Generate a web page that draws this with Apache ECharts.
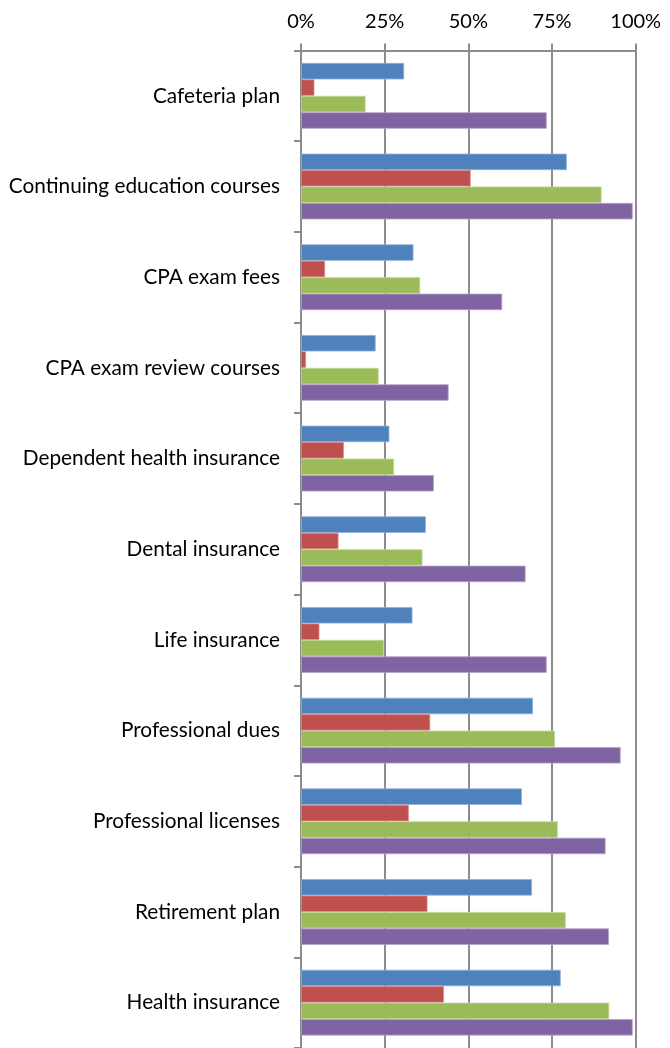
<!DOCTYPE html>
<html>
<head>
<meta charset="utf-8">
<script src="https://cdn.jsdelivr.net/npm/echarts@6/dist/echarts.min.js"></script>
<style>
html,body{margin:0;padding:0;background:#fff;}
#chart{width:670px;height:1048px;}
</style>
</head>
<body>
<div id="chart"></div>
<script>
const categories = ["Cafeteria plan","Continuing education courses","CPA exam fees","CPA exam review courses","Dependent health insurance","Dental insurance","Life insurance","Professional dues","Professional licenses","Retirement plan","Health insurance"];
const seriesBlue   = [30.8, 79.4, 33.6, 22.3, 26.4, 37.3, 33.3, 69.3, 66.0, 69.0, 77.6];
const seriesRed    = [4.0, 50.7, 7.2, 1.5, 12.8, 11.2, 5.5, 38.6, 32.2, 37.8, 42.7];
const seriesGreen  = [19.3, 89.8, 35.6, 23.2, 27.8, 36.3, 24.8, 75.9, 76.7, 79.1, 92.1];
const seriesPurple = [73.4, 99.1, 60.1, 44.1, 39.7, 67.1, 73.4, 95.5, 91.0, 92.0, 99.1];
const tickValues = [0, 25, 50, 75, 100];

const colors = ['#4F81BD','#C0504D','#9BBB59','#8064A2'];
const borders = ['#8FB0DA','#DA8C8A','#C3D89B','#B3A2C9'];
const font = 'Lato, sans-serif';
const lineColor = '#8C8C8C';

function mk(data, i){
  return {type:'bar', data:data, barGap:'0%', barCategoryGap:'27.5%',
    itemStyle:{color:colors[i], borderColor:borders[i], borderWidth:0.8}, silent:true, animation:false};
}

const chart = echarts.init(document.getElementById('chart'), null, {renderer:'canvas'});
chart.setOption({
  animation:false,
  grid:{left:301, top:50.5, width:334.7, height:999},
  xAxis:{type:'value', position:'top', min:tickValues[0], max:tickValues[tickValues.length-1], interval:25,
    axisLine:{show:true, lineStyle:{color:lineColor, width:2}},
    axisTick:{show:true, length:7, lineStyle:{color:lineColor, width:2}},
    splitLine:{show:true, lineStyle:{color:lineColor, width:2}},
    axisLabel:{formatter:'{value}%', color:'#000', fontFamily:font, fontSize:20, margin:19}},
  yAxis:{type:'category', data:categories, inverse:true,
    axisLine:{show:true, lineStyle:{color:lineColor, width:2}},
    axisTick:{show:true, length:7, lineStyle:{color:lineColor, width:2}},
    axisLabel:{color:'#000', fontFamily:font, fontSize:20.8, margin:21, padding:[3,0,0,0]}},
  series:[mk(seriesBlue,0), mk(seriesRed,1), mk(seriesGreen,2), mk(seriesPurple,3)]
});
</script>
</body>
</html>
